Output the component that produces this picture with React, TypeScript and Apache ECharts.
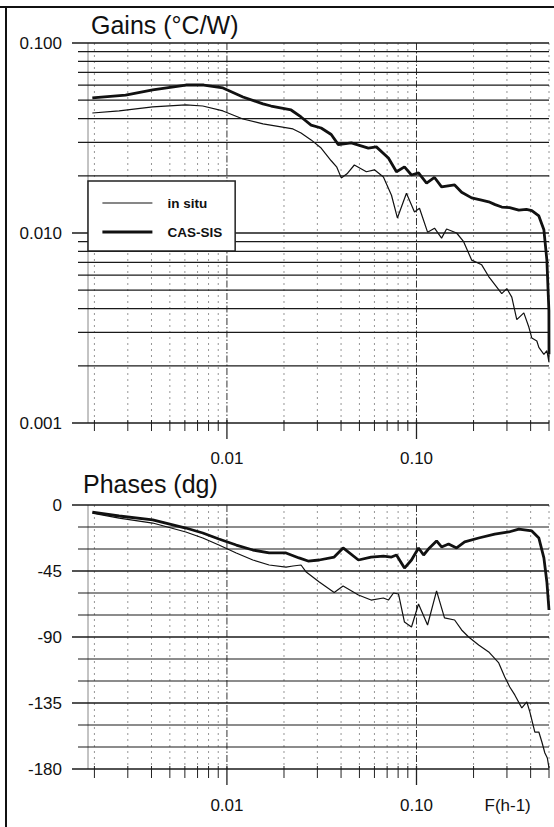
import React, { useEffect, useRef } from "react";
import * as echarts from "echarts";

// ---------- data ----------
const SERIES_NAMES = ["in situ", "CAS-SIS"];

const GAIN_F_CAS = [0.00195, 0.00292, 0.00406, 0.00607, 0.00755, 0.00953, 0.01215, 0.0155, 0.0171, 0.0218, 0.0246, 0.0278, 0.0314, 0.0355, 0.0387, 0.0453, 0.0557, 0.0614, 0.0711, 0.0784, 0.0864, 0.0941, 0.1025, 0.113, 0.1245, 0.1356, 0.1589, 0.173, 0.1954, 0.2203, 0.2404, 0.26, 0.2817, 0.31, 0.3465, 0.38, 0.4059, 0.442, 0.4699, 0.4873, 0.4994, 0.5];
const GAIN_CAS = [0.0514, 0.0532, 0.0566, 0.0601, 0.0601, 0.058, 0.052, 0.0478, 0.0466, 0.0444, 0.0408, 0.037, 0.0357, 0.033, 0.0292, 0.0298, 0.028, 0.0284, 0.0248, 0.021, 0.0223, 0.0202, 0.0207, 0.0183, 0.0196, 0.0175, 0.0179, 0.0164, 0.0153, 0.0149, 0.0146, 0.0141, 0.0137, 0.0136, 0.0132, 0.0133, 0.0131, 0.0123, 0.0104, 0.0072, 0.0039, 0.0023];

const GAIN_F_INSITU = [0.00195, 0.0027, 0.00406, 0.00607, 0.00746, 0.00953, 0.01215, 0.0155, 0.0223, 0.0246, 0.0278, 0.0314, 0.0355, 0.038, 0.0401, 0.043, 0.047, 0.0544, 0.06, 0.0669, 0.0738, 0.0793, 0.0885, 0.0976, 0.1037, 0.1144, 0.1245, 0.1356, 0.1441, 0.1628, 0.1773, 0.1954, 0.2208, 0.2404, 0.2817, 0.2995, 0.3182, 0.3381, 0.3683, 0.3913, 0.4059, 0.4313, 0.442, 0.4699, 0.4873, 0.4994, 0.5];
const GAIN_INSITU = [0.0428, 0.0439, 0.0461, 0.0472, 0.0466, 0.0439, 0.0398, 0.0375, 0.0353, 0.0336, 0.0309, 0.028, 0.024, 0.0222, 0.0195, 0.0205, 0.0228, 0.021, 0.0215, 0.0197, 0.0158, 0.012, 0.0162, 0.0129, 0.0135, 0.0101, 0.0106, 0.0094, 0.0105, 0.01, 0.009, 0.0072, 0.0068, 0.0059, 0.0048, 0.0051, 0.0046, 0.0035, 0.0038, 0.0032, 0.0028, 0.0027, 0.0025, 0.0023, 0.0024, 0.0021, 0.0024];

const PHASE_F_CAS = [0.00195, 0.0027, 0.00406, 0.00607, 0.00746, 0.00907, 0.0112, 0.0137, 0.0167, 0.0205, 0.024, 0.0268, 0.0307, 0.0368, 0.041, 0.0494, 0.0576, 0.0669, 0.0738, 0.0784, 0.0864, 0.0941, 0.1025, 0.109, 0.117, 0.1276, 0.1356, 0.1476, 0.1628, 0.1795, 0.2128, 0.2586, 0.3068, 0.3465, 0.4059, 0.442, 0.4699, 0.4873, 0.5];
const PHASE_CAS = [-4.8, -7.5, -10.2, -15.7, -19.1, -23.2, -27.3, -30.7, -32.7, -32.7, -36.1, -38.2, -37.5, -35.5, -29.3, -37.5, -35.5, -34.8, -35.5, -34.1, -43.0, -37.5, -29.3, -34.1, -29.3, -24.5, -28.6, -26.6, -29.3, -25.2, -22.5, -19.8, -18.4, -16.4, -17.7, -22.5, -36.1, -52.5, -71.6];

const PHASE_F_INSITU = [0.00195, 0.0027, 0.00406, 0.00607, 0.00746, 0.00907, 0.0112, 0.0137, 0.0167, 0.0205, 0.0223, 0.0246, 0.0262, 0.0307, 0.0368, 0.041, 0.0494, 0.0576, 0.0669, 0.0711, 0.0756, 0.0804, 0.0864, 0.0941, 0.1025, 0.1144, 0.1276, 0.1405, 0.1589, 0.173, 0.1884, 0.2128, 0.2404, 0.2716, 0.2922, 0.3105, 0.33, 0.3594, 0.382, 0.3962, 0.421, 0.442, 0.4586, 0.4756, 0.49, 0.5];
const PHASE_INSITU = [-5.5, -8.9, -12.3, -18.4, -22.5, -27.3, -32.7, -37.5, -40.9, -42.3, -41.6, -40.9, -45.7, -52.5, -59.7, -55.2, -61.4, -64.8, -63.4, -64.8, -60.0, -60.7, -79.8, -83.2, -67.5, -81.8, -58.6, -77.0, -78.4, -85.2, -90.0, -95.5, -100.2, -107.7, -117.3, -124.1, -129.5, -138.4, -134.3, -141.1, -154.8, -154.8, -161.6, -169.1, -172.5, -179.3];

const X_MIN = 0.00185;
const X_MAX = 0.5;
const X_GRID = [0.002, 0.003, 0.004, 0.005, 0.006, 0.007, 0.008, 0.009, 0.01, 0.02, 0.03, 0.04, 0.05, 0.06, 0.07, 0.08, 0.09, 0.1, 0.2, 0.3, 0.4, 0.5];
const X_MAJOR = [0.01, 0.1];
const GAIN_GRID = [0.001, 0.002, 0.003, 0.004, 0.005, 0.006, 0.007, 0.008, 0.009, 0.01, 0.02, 0.03, 0.04, 0.05, 0.06, 0.07, 0.08, 0.09, 0.1];
const GAIN_MAJOR = [0.001, 0.01, 0.1];
const PHASE_GRID = [0, -15, -30, -45, -60, -75, -90, -105, -120, -135, -150, -165, -180];
const PHASE_MAJOR = [0, -45, -90, -135, -180];

const FONT = "'Liberation Sans', Arial, Helvetica, sans-serif";
const INK = "#111";
const THIN = 1.2;
const THICK = 2.8;

const zip = (a: number[], b: number[]) => a.map((v, i) => [v, b[i]]);

export default function App() {
  const ref = useRef<HTMLDivElement>(null);
  useEffect(() => {
    if (!ref.current) return;
    const chart = echarts.init(ref.current, undefined, { renderer: "svg" });
    const xLabel = (v: number) => {
      const e = Math.log10(v);
      if (Math.abs(e + 2) < 1e-6) return "0.01";
      if (Math.abs(e + 1) < 1e-6) return "0.10";
      return "";
    };
    const xAxisBase = {
      type: "log",
      logBase: 10,
      min: X_MIN,
      max: X_MAX,
      axisLine: { show: false },
      axisTick: { show: false },
      splitLine: { show: false },
      minorTick: { show: false },
    };
    chart.setOption({
      animation: false,
      backgroundColor: "#fff",
      title: [
        { text: "Gains (°C/W)", left: 91, top: 12, padding: 0, textStyle: { fontFamily: FONT, fontSize: 25, fontWeight: "normal", color: INK } },
        { text: "Phases (dg)", left: 83, top: 471, padding: 0, textStyle: { fontFamily: FONT, fontSize: 25, fontWeight: "normal", color: INK } },
      ],
      legend: {
        data: [
          { name: SERIES_NAMES[0], lineStyle: { width: THIN, color: INK } },
          { name: SERIES_NAMES[1], lineStyle: { width: THICK, color: INK } },
        ],
        orient: "vertical",
        left: 88,
        top: 181,
        padding: [15, 13, 12, 13],
        itemWidth: 50,
        itemHeight: 14,
        itemGap: 15,
        backgroundColor: "#fff",
        borderColor: "#222",
        borderWidth: 1.5,
        borderRadius: 0,
        selectedMode: false,
        itemStyle: { opacity: 0, borderWidth: 0 },
        textStyle: { fontFamily: FONT, fontSize: 13.5, fontWeight: "bold", color: INK, padding: [0, 0, 0, 10] },
      },
      grid: [
        { left: 88, right: 5, top: 43, height: 380 },
        { left: 88, right: 5, top: 505, height: 264 },
      ],
      xAxis: [
        { ...xAxisBase, gridIndex: 0, axisLabel: { formatter: xLabel, margin: 27, fontFamily: FONT, fontSize: 17, color: INK } },
        { ...xAxisBase, gridIndex: 1, axisLabel: { formatter: xLabel, margin: 28, fontFamily: FONT, fontSize: 17, color: INK } },
      ],
      yAxis: [
        {
          type: "log", logBase: 10, gridIndex: 0, min: 0.001, max: 0.1,
          axisLine: { show: false }, axisTick: { show: false }, splitLine: { show: false },
          axisLabel: { formatter: (v: number) => v.toFixed(3), margin: 26, fontFamily: FONT, fontSize: 17, color: INK },
        },
        {
          type: "value", gridIndex: 1, min: -180, max: 0, interval: 15,
          axisLine: { show: false }, axisTick: { show: false }, splitLine: { show: false },
          axisLabel: { formatter: (v: number) => (Math.round(v) % 45 === 0 ? String(Math.round(v)) : ""), margin: 26, fontFamily: FONT, fontSize: 17, color: INK },
        },
      ],
      series: [
        { name: "in situ", type: "line", xAxisIndex: 0, yAxisIndex: 0, symbol: "none", data: zip(GAIN_F_INSITU, GAIN_INSITU), lineStyle: { color: INK, width: THIN }, itemStyle: { color: INK }, z: 3 },
        { name: "CAS-SIS", type: "line", xAxisIndex: 0, yAxisIndex: 0, symbol: "none", data: zip(GAIN_F_CAS, GAIN_CAS), lineStyle: { color: INK, width: THICK }, itemStyle: { color: INK }, z: 3 },
        { name: "in situ", type: "line", xAxisIndex: 1, yAxisIndex: 1, symbol: "none", data: zip(PHASE_F_INSITU, PHASE_INSITU), lineStyle: { color: INK, width: THIN }, itemStyle: { color: INK }, z: 3 },
        { name: "CAS-SIS", type: "line", xAxisIndex: 1, yAxisIndex: 1, symbol: "none", data: zip(PHASE_F_CAS, PHASE_CAS), lineStyle: { color: INK, width: THICK }, itemStyle: { color: INK }, z: 3 },
      ],
    });

    // gridlines and ticks placed through the axes' own scales
    const px = (i: number, v: number) => chart.convertToPixel({ xAxisIndex: i } as any, v) as number;
    const py = (i: number, v: number) => chart.convertToPixel({ yAxisIndex: i } as any, v) as number;
    const els: any[] = [];
    const line = (x1: number, y1: number, x2: number, y2: number, style: any) =>
      els.push({ type: "line", silent: true, z: 1, shape: { x1, y1, x2, y2 }, style: { fill: null, ...style } });

    const panels = [
      { xi: 0, yi: 0, yGrid: GAIN_GRID, yMajor: GAIN_MAJOR, yTop: 0.1, yBot: 0.001, minorTick: 8 },
      { xi: 1, yi: 1, yGrid: PHASE_GRID, yMajor: PHASE_MAJOR, yTop: 0, yBot: -180, minorTick: 9 },
    ];
    panels.forEach((p) => {
      const left = px(p.xi, X_MIN);
      const right = px(p.xi, X_MAX);
      const top = py(p.yi, p.yTop);
      const bot = py(p.yi, p.yBot);
      line(left, top, left, bot, { stroke: "#888", lineWidth: 1 });
      X_GRID.forEach((f) => {
        const x = px(p.xi, f);
        const major = X_MAJOR.includes(f);
        line(x, top, x, bot, major
          ? { stroke: "#333", lineWidth: 1, lineDash: [7, 2, 1.5, 2] }
          : { stroke: "#8a8a8a", lineWidth: 0.9, lineDash: [2, 4] });
        line(x, bot - 3, x, bot + (major ? 16 : p.minorTick), { stroke: "#222", lineWidth: major ? 1.3 : 1 });
      });
      p.yGrid.forEach((v) => {
        const y = py(p.yi, v);
        const major = p.yMajor.includes(v);
        line(left - (major ? 16 : 10), y, right, y, { stroke: "#1a1a1a", lineWidth: major ? 1.4 : 1.2 });
      });
    });

    // page frame
    line(0, 7, 554, 7, { stroke: "#111", lineWidth: 2 });
    line(6, 7, 6, 827, { stroke: "#111", lineWidth: 2 });

    els.push({
      type: "text", silent: true, z: 5,
      x: px(1, 0.1) + 68, y: py(1, -180) + 28,
      style: { text: "F(h-1)", font: `17px ${FONT}`, fill: INK, textAlign: "left", textVerticalAlign: "top" },
    });

    chart.setOption({ graphic: { elements: els } });
    return () => chart.dispose();
  }, []);
  return <div ref={ref} style={{ position: "absolute", left: 0, top: 0, width: 554, height: 827, background: "#fff" }} />;
}
